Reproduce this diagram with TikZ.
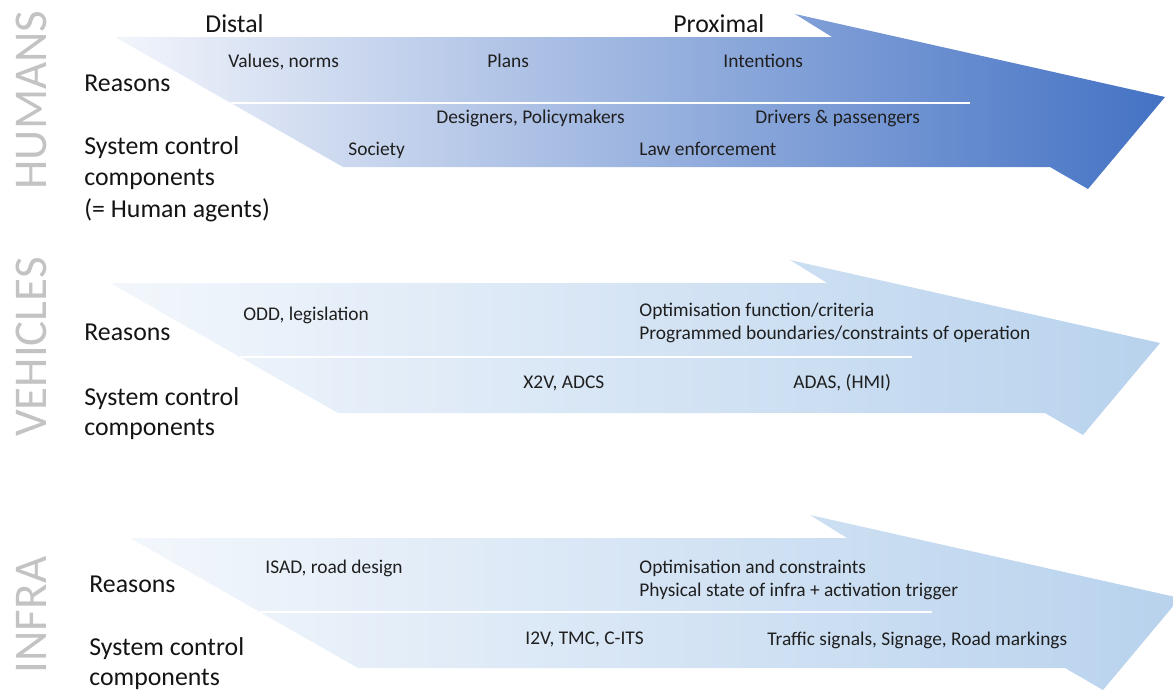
\documentclass[tikz,border=0pt]{standalone}
\usepackage{fontspec}
\setmainfont{Carlito}
\usetikzlibrary{positioning,calc}
\definecolor{humdark}{RGB}{68,114,196}
\definecolor{humlight}{RGB}{242,245,251}
\definecolor{vehdark}{RGB}{184,210,237}
\definecolor{vehlight}{RGB}{243,247,252}
\definecolor{sidegray}{RGB}{195,195,195}

\begin{document}
\begin{tikzpicture}[x=0.5pt,y=-0.5pt]
\tikzstyle{side}=[rotate=90,inner sep=0pt,text=sidegray,font=\fontsize{23.5}{28}\selectfont];
\tikzstyle{lbl}=[anchor=base west,inner sep=0pt,text=black!92,font=\fontsize{12.9}{15.5}\selectfont];
\tikzstyle{item}=[anchor=base west,inner sep=0pt,text=black!88,font=\fontsize{9.7}{11.5}\selectfont];
\tikzstyle{divider}=[white,line width=1pt];

\useasboundingbox (0,0) rectangle (1173,692);

% the three arrows, drawn from their top left corner
\foreach \ax/\ay/\lc/\rc/\nm in {115/37/humlight/humdark/hum,
                                 110/283/vehlight/vehdark/veh,
                                 130/538/vehlight/vehdark/inf}
  \shade[left color=\lc,right color=\rc] (\ax,\ay) coordinate (\nm A)
      -- ++(717,0) -- ++(-37,-23) -- ++(370,83) -- ++(-77,92)
      -- ++(-38,-22) -- ++(-707,0) coordinate (\nm G) -- cycle;

\draw[divider] ($(humA)!0.508!(humG)$) -- +(739,0);
\draw[divider] ($(vehA)!0.569!(vehG)$) -- +(672,0);
\draw[divider] ($(infA)!0.569!(infG)$) -- +(672,0);

% side titles
\node[side] (humside) at (31,100) {HUMANS};
\node[side] (vehside) at (31,347) {VEHICLES};
\node[side] (infside) at (31,615) {INFRA};

% humans
\node[lbl] (hdistal) at (205,32) {Distal};
\node[lbl] (hprox) at (673,32) {Proximal};
\node[lbl] (hreason) at (84,91) {Reasons};
\node[lbl] (hsys1) at (84,154) {System control};
\node[lbl] (hsys2) at (84,185) {components};
\node[lbl] (hsys3) at (84,217) {(= Human agents)};
\node[item] (hvalues) at (228,67) {Values, norms};
\node[item] (hplans) at (487,67) {Plans};
\node[item] (hintent) at (723,67) {Intentions};
\node[item] (hdesign) at (436,123) {Designers, Policymakers};
\node[item] (hdriver) at (755,123) {Drivers \& passengers};
\node[item] (hsociety) at (348,155) {Society};
\node[item] (hlaw) at (639,155) {Law enforcement};

% vehicles
\node[lbl] (vreason) at (84,340) {Reasons};
\node[lbl] (vsys1) at (84,405) {System control};
\node[lbl] (vsys2) at (84,435) {components};
\node[item] (vodd) at (243,320) {ODD, legislation};
\node[item] (vopt) at (639,316) {Optimisation function/criteria};
\node[item] (vprog) at (639,339) {Programmed boundaries/constraints of operation};
\node[item] (vxtov) at (523,388) {X2V, ADCS};
\node[item] (vadas) at (793,388) {ADAS, (HMI)};

% infra
\node[lbl] (ireason) at (89,592) {Reasons};
\node[lbl] (isys1) at (89,655) {System control};
\node[lbl] (isys2) at (89,685) {components};
\node[item] (iisad) at (265,573) {ISAD, road design};
\node[item] (iopt) at (639,573) {Optimisation and constraints};
\node[item] (iphys) at (639,596) {Physical state of infra + activation trigger};
\node[item] (iitov) at (525,644) {I2V, TMC, C-ITS};
\node[item] (itraffic) at (767,645) {Traffic signals, Signage, Road markings};

\end{tikzpicture}
\end{document}
